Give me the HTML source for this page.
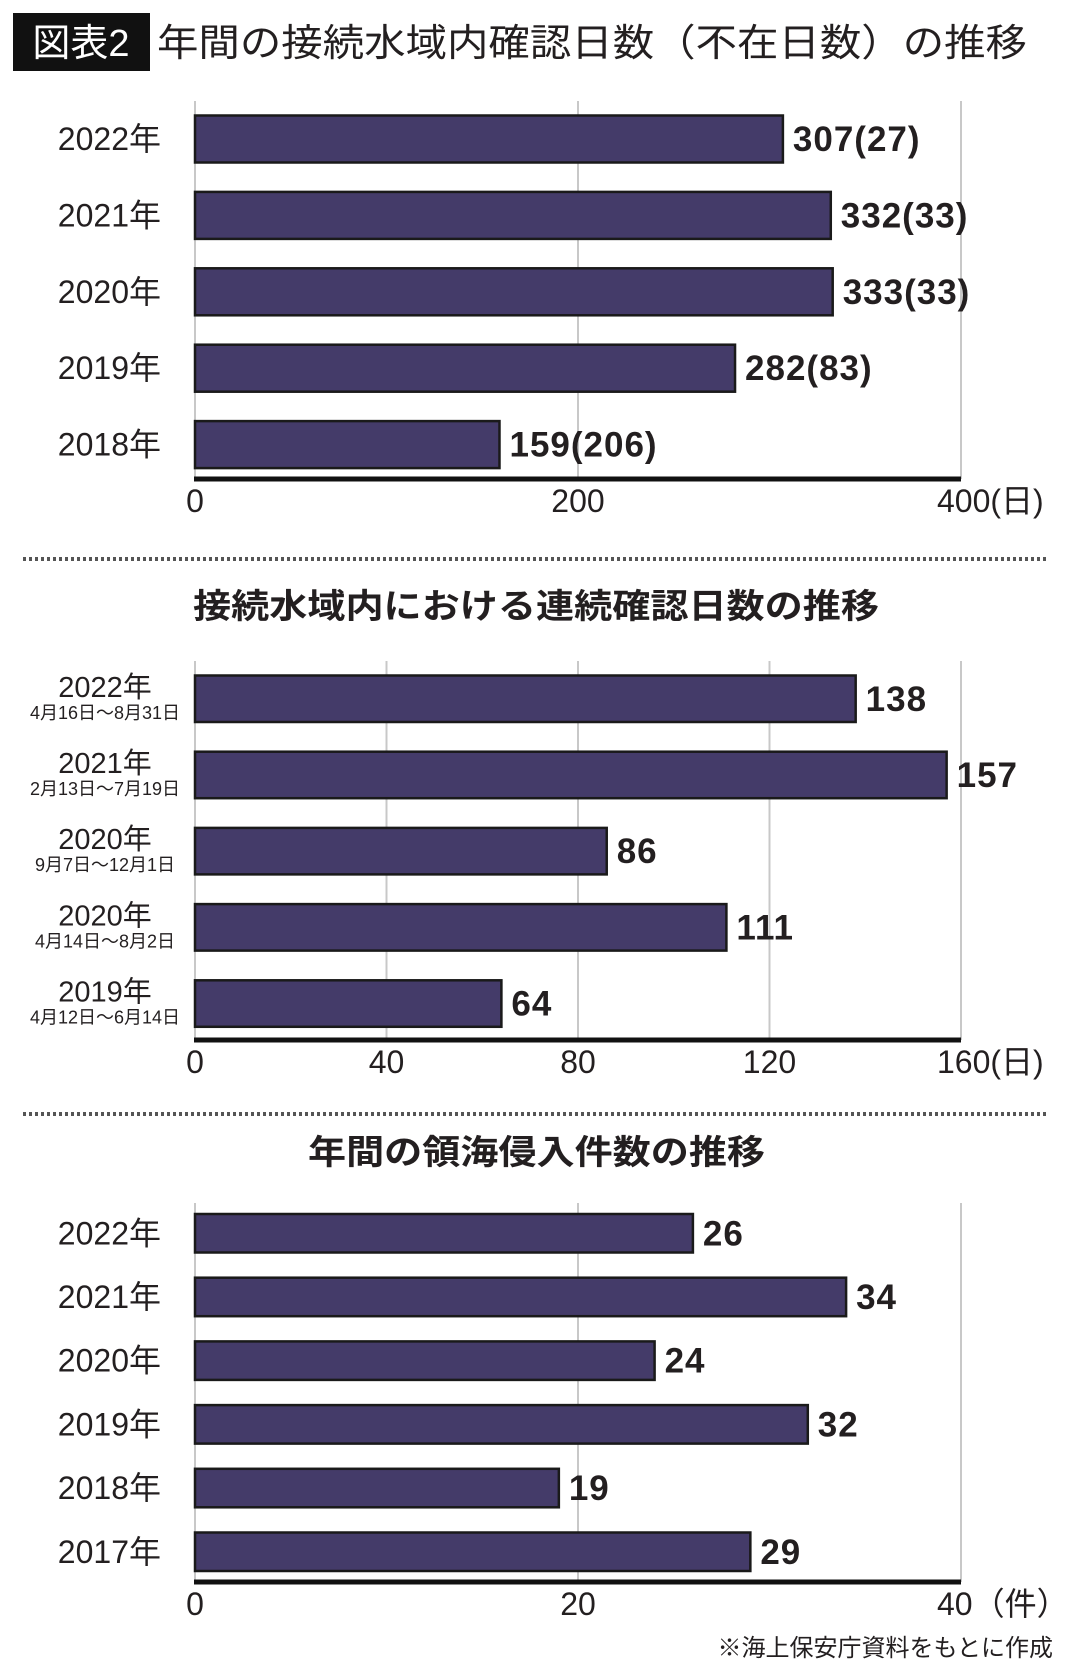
<!DOCTYPE html>
<html><head><meta charset="utf-8">
<style>
html,body{margin:0;padding:0;background:#fff;}
svg{display:block;}
text{font-family:"Liberation Sans Narrow","Liberation Sans","Noto Sans CJK JP",sans-serif;fill:#231f20;}
.b{font-family:"Liberation Sans","Noto Sans CJK JP",sans-serif;font-weight:bold;}
</style></head>
<body>
<svg id="c" width="1080" height="1670" viewBox="0 0 1080 1670" xmlns="http://www.w3.org/2000/svg">
<rect x="13" y="13" width="137" height="58" fill="#111"/>
<text x="81" y="56" text-anchor="middle" font-size="38" style="fill:#fff">図表2</text>
<text x="157" y="56" font-size="38" textLength="870" lengthAdjust="spacingAndGlyphs">年間の接続水域内確認日数（不在日数）の推移</text>
<line x1="23" y1="559" x2="1046" y2="559" stroke="#555" stroke-width="4" stroke-dasharray="3,3"/>
<text class="b" x="193" y="618" font-size="34" textLength="686" lengthAdjust="spacingAndGlyphs">接続水域内における連続確認日数の推移</text>
<line x1="23" y1="1114" x2="1046" y2="1114" stroke="#555" stroke-width="4" stroke-dasharray="3,3"/>
<text class="b" x="308" y="1164" font-size="34" textLength="457" lengthAdjust="spacingAndGlyphs">年間の領海侵入件数の推移</text>
<text x="1053" y="1656" text-anchor="end" font-size="24">※海上保安庁資料をもとに作成</text>
</svg>
<script>
// Chart 1
const c1Cats=["2022年","2021年","2020年","2019年","2018年"];
const c1Vals=[307,332,333,282,159];
const c1Absent=[27,33,33,83,206];
const c1Ticks=[0,200,400];
// Chart 2
const c2Years=["2022年","2021年","2020年","2020年","2019年"];
const c2Dates=["4月16日～8月31日","2月13日～7月19日","9月7日～12月1日","4月14日～8月2日","4月12日～6月14日"];
const c2Vals=[138,157,86,111,64];
const c2Ticks=[0,40,80,120,160];
// Chart 3
const c3Cats=["2022年","2021年","2020年","2019年","2018年","2017年"];
const c3Vals=[26,34,24,32,19,29];
const c3Ticks=[0,20,40];

const svg=document.getElementById('c');
const NS="http://www.w3.org/2000/svg";
function mk(tag,attrs,parent){const e=document.createElementNS(NS,tag);for(const k in attrs)e.setAttribute(k,attrs[k]);(parent||svg).appendChild(e);return e;}
const X0=195,X1=961;

function drawChart(o){
  const sx=v=>X0+(X1-X0)*v/o.max;
  o.ticks.forEach((t,i)=>{
    const g=mk('line',{x1:sx(t),x2:sx(t),y1:o.gridTop,y2:o.axisY,stroke:'#c8c8c8','stroke-width':2});
    
    
    const tl=mk('text',{x:sx(t),y:o.axisY+33,'text-anchor':i===o.ticks.length-1?'start':'middle','font-size':32});
    if(i===o.ticks.length-1){tl.setAttribute('x',sx(t)-24);}
    tl.textContent=t+(i===o.ticks.length-1?o.unit:'');
    
    
  });
  o.vals.forEach((v,i)=>{
    const y=o.top+i*o.pitch;
    const r=mk('rect',{x:X0,y:y,width:sx(v)-X0,height:o.h,fill:'#443b69',stroke:'#1a1a1a','stroke-width':2.5});
    
    
    const vl=mk('text',{x:sx(v)+10,y:y+o.h/2+12,'font-size':35,class:'b','letter-spacing':1});
    vl.textContent=o.labels[i];
    
    
    if(o.dates){
      const yl=mk('text',{x:105,y:y+o.h/2-2,'text-anchor':'middle','font-size':29});
      yl.textContent=o.cats[i];
      
      
      const dl=mk('text',{x:105,y:y+o.h/2+20,'text-anchor':'middle','font-size':18});
      dl.textContent=o.dates[i];
      
      
    } else {
      const yl=mk('text',{x:161,y:y+o.h/2+11,'text-anchor':'end','font-size':32});
      yl.textContent=o.cats[i];
      
      
    }
  });
  const ax=mk('line',{x1:X0-1,x2:X1,y1:o.axisY,y2:o.axisY,stroke:'#111','stroke-width':5});
  
  
}
drawChart({cats:c1Cats,vals:c1Vals,labels:c1Vals.map((v,i)=>v+'('+c1Absent[i]+')'),ticks:c1Ticks,max:400,unit:'(日)',gridTop:101,axisY:479,top:115.5,pitch:76.4,h:47});
drawChart({cats:c2Years,dates:c2Dates,vals:c2Vals,labels:c2Vals.map(String),ticks:c2Ticks,max:160,unit:'(日)',gridTop:661,axisY:1040,top:675.5,pitch:76.2,h:46.5});
drawChart({cats:c3Cats,vals:c3Vals,labels:c3Vals.map(String),ticks:c3Ticks,max:40,unit:'（件）',gridTop:1203,axisY:1582,top:1214,pitch:63.7,h:38.5});
</script>
</body></html>
